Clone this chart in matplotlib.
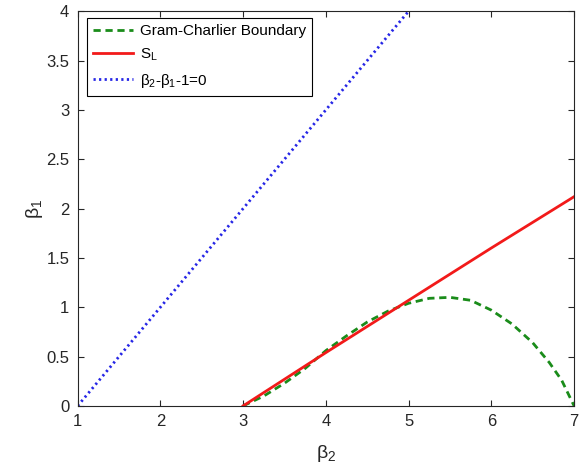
import numpy as np
import matplotlib.pyplot as plt

plt.rcParams['font.family'] = ['Liberation Sans', 'DejaVu Sans']
plt.rcParams['mathtext.fontset'] = 'custom'
plt.rcParams['mathtext.rm'] = 'Liberation Sans'
plt.rcParams['mathtext.it'] = 'Liberation Sans'

# Gram-Charlier boundary
gc_b2 = [3.0, 3.25, 3.5, 3.75, 4.0, 4.25, 4.5, 4.75, 5.0, 5.25, 5.5, 5.75, 6.0, 6.25, 6.5, 6.7, 6.85, 7.0]
gc_b1 = [0.0, 0.1, 0.23, 0.38, 0.56, 0.71, 0.85, 0.96, 1.04, 1.09, 1.10, 1.07, 0.97, 0.83, 0.64, 0.44, 0.26, 0.0]

# S_L line
sl_b2 = [3.0, 4.0, 5.0, 6.0, 7.0]
sl_b1 = [0.0, 0.54, 1.07, 1.60, 2.12]

# beta2 - beta1 - 1 = 0
bd_b2 = [1.0, 5.0]
bd_b1 = [0.0, 4.0]

grey = (0.15, 0.15, 0.15)

fig = plt.figure(figsize=(5.84, 4.66), dpi=100)
ax = fig.add_axes([0.133, 0.129, 0.850, 0.847])

ax.plot(gc_b2, gc_b1, '--', color=(0.1, 0.55, 0.1), lw=2, dashes=(2.6, 1.7), label='Gram-Charlier Boundary')
ax.plot(sl_b2, sl_b1, '-', color=(0.95, 0.1, 0.1), lw=2, label='S$_{\\mathrm{L}}$')
ax.plot(bd_b2, bd_b1, ':', color=(0.15, 0.15, 0.9), lw=2, dashes=(0.8, 1.2),
        label=r'$\beta_2$-$\beta_1$-1=0')

ax.set_xlim(1, 7)
ax.set_ylim(0, 4)
ax.set_xticks([1, 2, 3, 4, 5, 6, 7])
ax.set_yticks(np.arange(0, 4.01, 0.5))
ax.set_yticklabels(['0', '0.5', '1', '1.5', '2', '2.5', '3', '3.5', '4'])
ax.tick_params(direction='in', top=True, right=True, labelsize=12, colors=grey, length=4, pad=6)
for s in ax.spines.values():
    s.set_color(grey)
    s.set_linewidth(0.8)

ax.set_xlabel(r'$\beta_2$', fontsize=14, color=grey, labelpad=10)
ax.set_ylabel(r'$\beta_1$', fontsize=14, color=grey, labelpad=1)

leg = ax.legend(loc='upper left', bbox_to_anchor=(0.012, 0.99), fontsize=11, fancybox=False,
                edgecolor='black', framealpha=1, handlelength=2.6, borderaxespad=0.2, labelspacing=0.55,
                handletextpad=0.5)
leg.get_frame().set_linewidth(0.8)

fig.savefig('out.png', dpi=100)
